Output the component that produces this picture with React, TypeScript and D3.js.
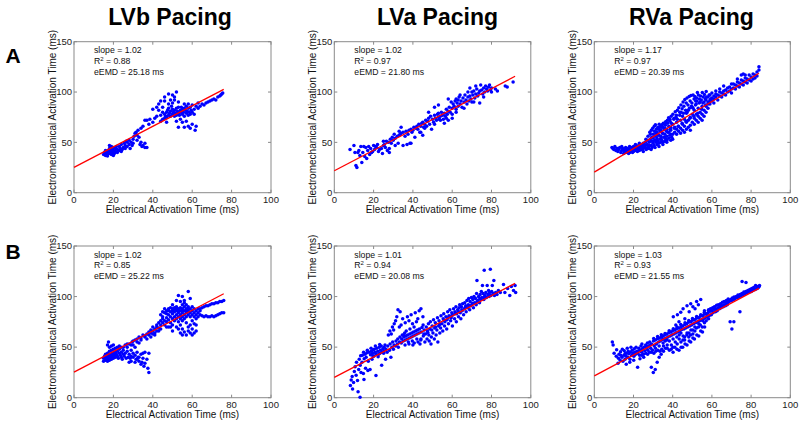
import React from "react";
import * as d3 from "d3";

type P = [number, number];

const columnTitles = ["LVb Pacing", "LVa Pacing", "RVa Pacing"];
const rowLabels = ["A", "B"];
const xTicks = [0, 20, 40, 60, 80, 100];
const yTicks = [0, 50, 100, 150];
const slopes = [1.02, 1.02, 1.17, 1.02, 1.01, 1.03];
const r2s = [0.88, 0.97, 0.97, 0.85, 0.94, 0.93];
const eemds = [25.18, 21.8, 20.39, 25.22, 20.08, 21.55];
const fitEnds = [76, 92, 84, 76, 92, 84];

const lvbA: P[] = [
  [15,38],[15.5,40],[16,37],[16,39],[16.5,41],[17,38],[17,40],[17.5,42],[18,39],[18,44],[18.5,41],[19,38],[19,43],[19.5,40],[20,42],[20,45],[20.5,39],[21,41],[21,44],[21.5,46],[22,40],[22,43],[18,47],[16,42],[17,36.5],[20,37],[19,46],
  [23,42],[23,46],[23.5,44],[24,48],[24.5,43],[25,45],[25.5,49],[26,47],[26.5,51],[27,50],[27,46],[28,52],[28,48],[28.5,44],[29,50],[29.5,47],[30,49],[30,53],[24,41],[26,44],
  [30.5,56],[31,59],[31.5,60],[32,57],[32,52],[33,55],[33.5,48],[34,50],[34.5,46],[35,47],[36,45],[36,49],[37,45],[32.5,62],[34,64],
  [35,66],[36,72],[37,72],[38,68],[38.5,73],[40,70],[40,83],[41,74],[42,76],[42,85],[43,82],[43,88],[44,77],[44,91],[45,73],[45,80],[45,85],[46,74],[46,91],[44,71],
  [46,78],[46.5,76],[47,80],[47,75],[47.5,82],[48,77],[48,84],[48.5,79],[49,81],[49,76],[49.5,86],[50,78],[50,83],[50,97],[50.5,80],[51,76],[51,82],[51,92],[51.5,79],[52,84],[52,77],[52,100],[52.5,81],[53,79],[53,85],[53,90],[53.5,77],[54,82],[54,80],[54.5,85],[55,78],[55,83],[55,70],[55.5,80],[56,84],[56,76],[56,65],[56.5,82],[57,79],[57,86],[57.5,81],[58,77],[58,84],[58.5,80],[59,85],[59,78],[59.5,82],[60,80],[60,87],[60,68],[61,83],[61,78],[61.5,62],[62,86],[62,66],[63,84],[52,71],[53,65],[54,73],[57,71],[58,66],[59,64],[48,88],[49,92],[47,70],[46,95],[48,98],[50,89],[51,95],[56,88],[58,88],
  [64,86],[65,88],[66,87],[68,90],[69,91],[70,92],[71,93],[72,92],[73,95],[74,96],[74.5,97],[75,98],[75.5,99],[67,89],[63,89]
];

const lvaA: P[] = [
  [8,43],[10,47],[10.5,40],[11,27],[11.5,25],[12,40],[12.5,42],[13,37],[13.5,46],[14,30],[14.5,40],[15,46],[15.5,36],[16,45],[16.5,34],[17,42],[17.5,46],[18,38],[18.5,44],[19,40],[19.5,41],[20,47],[20.5,43],[21,46],[21.5,45],[22,48],[22.5,41],[23,43],[24,44],[24.5,39],[25,47],[25.5,48],[26,45],[26.5,51],[27,42],[27.5,50],[28,44],[28.5,53],[29,49],[29.5,55],[30,52],[30.5,58],[31,47],[31,54],[32,56],[32.5,49],[33,57],[33.5,58],[34,59],[34,65],[35,60],[35,47],[36,56],[36.5,61],[37,48],[37.5,58],[38,62],[38.5,49],[39,63],[39.5,60],[40,62],[40.5,65],[41,55],[41.5,64],[42,66],[42.5,63],[43,68],[43.5,60],[44,66],[44.5,69],[45,57],[45,70],[45.5,65],[46,68],[46.5,72],[47,66],[47.5,71],[48,74],[48,80],[48.5,68],[49,76],[49.5,63],[50,73],[50.5,70],[51,77],[51,85],[51.5,74],[52,72],[52.5,78],[53,75],[53,87],[53.5,73],[54,76],[54.5,80],[55,77],[55.5,73],[56,79],[56.5,76],[57,83],[57.5,78],[58,81],[58,93],[58.5,85],[59,80],[59.5,90],[60,84],[60,78],[60.5,88],[61,86],[61.5,91],[62,83],[62.5,89],[63,92],[63,86],[63.5,95],[64,88],[64.5,91],[65,85],[65.5,94],[66,90],[66.5,97],[67,92],[67.5,88],[68,95],[68,100],[68.5,91],[69,96],[69.5,93],[70,100],[70,90],[70.5,97],[71,101],[71.5,94],[72,98],[72,106],[72.5,103],[73,96],[73.5,99],[74,101],[74,89],[74.5,107],[75,102],[75.5,98],[76,104],[76,95],[76.5,100],[77,106],[77.5,103],[78,101],[78.5,105],[79,107],[79.5,102],[80,104],[80,100],[82,103],[83,101],[87,106],[88,105],[91,110],[60,74],[58,72],[56,69],[54,72],[62,80],[66,84],[39,49],[33,61],[28,40],[25,51],[44,60],[46,64],[51,68],[53,79],[57,74],[62,93],[64,97],[69,104],[71,90]
];

const rvaA: P[] = [
  [9,45],[9.5,44],[10,43],[10.5,46],[11,42],[11.5,44],[12,41],[12.5,43],[13,45],[13.5,40],[14,42],[14.5,44],[15,39],[15,43],[15.5,41],[16,40],[16,45],[16.5,42],[17,41],[17,44],[17.5,39],[18,43],[18,46],[18.5,41],[19,42],[19,45],[19.5,40],[20,43],[20,46],[20.5,44],
  [21,42],[21,45],[21.5,47],[22,43],[22,46],[22.5,44],[23,42],[23,47],[23.5,45],[24,43],[24,48],[24.5,46],[25,44],[25,49],[25.5,47],[26,45],[26,50],[26.5,43],[27,48],[27,52],[27.5,46],[28,44],[28,50],[28.5,53],[29,47],[29,51],[29.5,45],[30,49],[30,54],[30,58],[30.5,47],[31,52],[31,56],[31.5,50],[32,48],[32,54],[32,60],[32.5,51],[33,57],[33,49],[33.5,53],[34,50],[34,56],[34,62],[34.5,52],[35,59],[35,48],[35.5,55],[36,51],[36,58],[36,64],[36.5,53],[37,56],[37,50],[37.5,60],[38,54],[38,66],[38.5,57],[39,52],[39,62],[39.5,55],[40,58],[40,68],[40,53],
  [28.3,60],[29.1,62],[29.8,64],[30.6,66],[31.2,67.5],[31.7,63],[32.4,65],[33.1,68],[33.8,66],[34.5,67.5],[35.2,69],[35.9,68],[36.4,70.5],[37.3,72],[37.9,74.5],[38.6,73],[39.2,76],[40.1,78],[40.7,74],[41.3,80.5],[41.9,77],[42.4,82],[43.1,84.5],[43.6,80],[44.2,87],[44.8,83.5],[45.3,90],[45.7,86],[46.2,92.5],[46.9,89],[47.3,94],[47.8,87],[48.4,95.5],[48.9,91],[49.3,96.5],[49.8,89],[50.4,97],[50.9,93],[51.3,95.5],[51.7,91],[52.2,94],[52.6,99.5],[53.1,97],[53.6,93],[54.2,96],[55.1,99.5],[55.6,95],[56.2,97.5],[57.1,100.5],
  [41,60],[41,65],[42,58],[42,63],[42,70],[43,61],[43,66],[44,59],[44,64],[44,72],[45,62],[45,68],[45,76],[46,60],[46,66],[46,73],[47,63],[47,70],[47,79],[48,65],[48,72],[48,82],[49,67],[49,75],[49,62],[50,70],[50,78],[50,85],[51,68],[51,74],[51,82],[52,72],[52,78],[52,88],[53,70],[53,76],[53,84],[54,74],[54,80],[54,90],[55,72],[55,78],[55,86],[56,76],[56,82],[56,90],[57,80],[57,86],[58,84],[58,90],
  [26.3,53],[27.4,56],[28.6,58],[29.3,55],[30.7,61],[31.4,59],[32.8,63],[33.6,61],[34.3,65],[35.7,63],[36.2,67],[37.4,69],[38.6,71],[39.3,69],[40.6,73],[41.7,75],[42.4,73],[43.6,77],[44.3,80],[45.5,79],[46.6,82],[47.3,80],[48.5,84],[49.6,86],[50.4,84],[51.6,87],[52.3,91],[53.5,89],[54.6,92],[55.4,89],[56.6,93],[57.3,95],[58.6,97],[59.4,93],[32.2,57],[34.8,59],[36.8,61],[38.8,63],[40.8,64],[42.8,66],[44.8,69],[46.8,71],[48.8,74],[50.8,76],[52.8,79],[54.8,83],[56.8,87],[58.8,90],
  [57,92],[58,95],[59,88],[59,97],[60,91],[60,99],[61,93],[61,89],[62,95],[62,98],[63,92],[63,97],[64,96],[64,100],[65,95],[65,99],[66,98],[66,101],[67,97],[67,102],[68,100],[68,104],[69,101],[69,105],[70,103],[70,99],[71,104],[71,108],[72,103],[72,107],[73,106],[73,110],[74,105],[74,109],[75,108],[75,112],[76,107],[76,111],[77,110],[77,114],[78,109],[78,113],[79,112],[79,117],[80,111],[80,115],[81,113],[81,118],[82,114],[82,117],[83,116],[83,120],[84,122],[84,125],[75,117],[76,118],[77,117],[73,113],[70,108],[66,106],[64,103],[62,101],[61,96],[60,94],[59,92],[58,88],
  [12,44],[14,46],[16,43],[18,40],[20,41],[22,41],[24,45],[26,47],[28,47],[30,51],[32,52],[34,54],[36,55],[38,60],[21,48],[23,49],[25,41],[27,44],[29,43],[31,45],[33,46],[35,50],[37,52],[39,58],[33,64],[35,65],[37,63],[39,65]
];

const lvbB: P[] = [
  [15,36],[15,39],[15.5,41],[16,37],[16,40],[16,43],[16.5,38],[17,36],[17,41],[17,44],[17,52],[17.5,39],[17.5,55],[18,37],[18,42],[18,46],[18,50],[18.5,40],[19,38],[19,43],[19,47],[19.5,41],[20,39],[20,44],[20,48],[20.5,42],[21,40],[21,45],[21,49],[21.5,43],[22,41],[22,46],[22,50],[22.5,39],[23,44],[23,48],[23.5,42],[24,40],[24,45],[24,50],[24.5,38],[25,43],[25,47],[25.5,41],[26,44],[26,52],[26.5,39],[27,46],[27,50],[27.5,40],[28,43],[28,53],[28.5,39],[29,47],[29,41],[29.5,55],[30,44],[30,40],[30,56],[31,42],[31,57],[31.5,38],[32,45],[32,58],[32.5,40],[33,36],[33,60],[34,43],[34,59],[34.5,35],[35,62],[35,39],[35.5,31],[36,61],[36,34],[37,63],[37,38],[37.5,29],[38,25],[38,65],[38,44],[39,64],[39,67],[40,66],[40,70],[41,68],[41,64],[42,70],[42,72],[43,69],[43,74],[44,72],[44,76],[45,74],[45,78],[45,85],[46,76],[46,72],[46,84],[47,79],[47,75],[47,86],[48,77],[48,82],[48,70],[48,86],[49,80],[49,74],[49,85],[50,78],[50,83],[50,72],[50,88],[51,80],[51,85],[51,76],[51,87],[52,82],[52,78],[52,86],[52,90],[52,70],[53,84],[53,80],[53,88],[53,75],[54,82],[54,86],[54,78],[54,95],[54,72],[55,84],[55,88],[55,80],[55,100],[55,68],[55,76],[56,86],[56,82],[56,90],[56,78],[56,65],[56,96],[57,84],[57,88],[57,80],[57,62],[57,92],[57,74],[58,86],[58,82],[58,105],[58,90],[58,70],[58,66],[59,84],[59,88],[59,80],[59,98],[59,72],[59,64],[60,86],[60,82],[60,76],[60,90],[60,68],[61,84],[61,80],[61,64],[61,88],[62,86],[62,82],[62,78],[62,66],[63,84],[63,80],[63,88],[64,82],[64,86],[64,88],[65,81],[65,89],[66,80],[66,90],[67,81],[67,91],[68,80],[68,91],[69,80],[69,92],[70,81],[70,93],[71,80],[71,93],[72,81],[72,94],[73,82],[73,94],[74,83],[74,95],[75,84],[75,95],[76,84],[76,96],
  [46,88],[47,83],[48,88],[49,89],[50,86],[51,89],[52,88],[53,86],[54,89],[55,86],[57,86],[58,88],[45,80],[44,82],[47,70],[49,70],[50,66],[53,68],[54,64],[55,62],[60,62],[61,73],[62,72],[50,92],[52,96],[53,101],[56,94],[55,92],
  [30,52],[32,55],[34,57],[36,60],[38,62],[40,63],[42,66],[44,68],[33,54],[37,58],[39,60],[41,62],[43,66],[27,53],[29,52],[31,50],[25,50],[23,51],[20,52],[19,51],[28,35],[29,36],[31,35],[33,40],[35,44],[36,45],[32,38],[34,33]
];

const lvaB: P[] = [
  [8.2,12],[8.6,17.5],[9.1,21],[9.3,8.5],[9.8,15],[10.2,26],[10.6,30.5],[11.1,22.3],[11.3,35],[11.8,17],[12.1,6],[12.4,28],[12.7,38],[13.1,0.5],[13.2,32],[13.4,41.5],[13.6,25],[14.1,35],[14.3,42],[14.8,24],[15.1,18],[15.2,38.5],[15.6,43],[15.9,29],[16.2,40],[16.6,44.5],[17.1,27],[17.3,36],[17.7,45],[18.2,28],[18.4,42.5],[18.9,46],[19.2,38],[19.4,44],[19.8,47.5],[20.1,41],[20.3,48],[20.7,45],[21.2,22],[21.1,43.5],[21.6,49],[22.1,46],[22.3,40.5],[22.8,50],[23.2,44],[23.5,47],[23.9,51],[24.1,32],[24.4,45],[24.7,48.5],[25.2,46],[25.4,50],[25.8,52],[26.1,38],[26.3,48],[26.9,45],[27.2,51],[16.8,47],[18.7,49],[20.9,51],[23.1,52.5],[25.1,44],[19.6,41.5],[14.9,45],[22.6,43],
  [27.5,62],[28.3,66],[29,63],[29.6,70],[30.2,67],[30.5,73],[31.2,76],[31.8,80],[32.4,87],[33.1,70],[33.5,85],[34,72],[34.8,78],[35.3,62],[36.1,74],[36.6,66],[37.2,80],[38,76],[38.5,68],[39.1,82],[39.8,73],[40.6,70],[41.2,84],[41.8,75],[42.5,78],[43.2,86],[44.1,88],[45.1,80],
  [28.1,47],[28.4,53],[28.8,40],[29.3,50],[29.7,55],[30.1,48],[30.4,52],[31.1,51],[31.4,56],[32.1,53],[32.3,58],[32.6,50],[33.2,55],[33.4,60],[34.1,54],[34.3,58],[34.6,62],[35.1,56],[35.4,60],[35.8,64],[36.2,57],[36.4,61],[37.1,58],[37.3,62],[37.7,55],[38.2,59],[38.4,63],[39.2,60],[39.4,64],[39.7,56],[40.1,61],[40.3,65],[40.7,54],[41.1,62],[41.4,66],[42.1,63],[42.3,67],[42.6,55],[43.1,64],[43.3,68],[43.6,53],[44,57],[40,52],[42,58],[38,53],[36,52],
  [44.2,65],[44.6,69.5],[44.1,58],[45.3,61],[45.7,67],[45.2,72],[46.1,55],[46.4,63],[46.8,70],[47.2,58],[47.4,66],[47.9,73],[48.3,56],[48.1,62],[48.6,68],[48.9,75],[49.2,53],[49.4,60],[49.8,71],[50.2,64],[50.5,77],[50.9,58],[51.1,69],[51.4,74],[51.8,62],[52.2,67],[52.5,79],[52.7,55],[53.1,71],[53.3,76],[53.7,64],[54.1,69],[54.3,81],[54.8,73],[55.2,66],[55.4,78],[55.7,83],[56.1,71],[56.3,75],[56.8,80],[57.2,68],[57.4,77],[57.7,85],[58.1,73],[58.4,81],[58.8,87],[59.2,76],[59.5,79],[59.8,84],[60.1,71],[60.4,82],[60.7,88],[61.2,78],[61.4,85],[61.9,90],[62.1,75],[62.3,83],[62.8,87],[63.2,80],[63.5,89],[63.8,92],[64.1,84],[64.4,78],[64.7,90],[65.1,86],[65.3,93],[65.8,82],[66.2,88],[66.4,94],[66.9,91],[67.1,85],[67.5,96],[67.8,89],[68.2,92],[68.4,98],[68.9,87],[69.1,95],[69.4,91],[69.8,99],[70.2,93],[70.5,97],[70.8,89],[71.1,100],[71.4,94],[71.9,98],[72.2,92],[72.4,103],[72.6,116],[73.1,96],[73.4,100],[73.9,94],[74.2,102],[74.5,97],[74.8,105],[75.1,99],[75.4,111],[75.7,103],[76.1,97],[76.3,126],[76.6,101],[77.1,104],[77.4,99],[77.8,111],[78.2,102],[78.5,106],[78.8,100],[79.1,104],[79.4,127],[79.7,101],[80.1,105],[80.4,111],[80.8,103],[81.2,116],[81.5,101],[82.1,104],[82.8,102],[83.5,106],[84.5,104],[86.1,112],[86.8,104],[88.2,108],[89.3,101],[90.1,110],[91.2,106],[92,111],[92.3,104],
  [55.9,76.5],[57.9,79],[59.9,81.5],[61.6,83],[63.1,85.5],[64.9,87],[66.7,89.5],[68.6,91],[70.4,93.5],[72.7,95],[74.1,98],[76.4,99.5],[78.4,101.5],[53.6,72.5],[51.6,70],[49.6,67],[47.6,64.5],[45.6,63]
];

const rvaB: P[] = [
  [9.2,55],[9.6,52],[10.1,44],[11.2,41],[11.4,47.5],[12.1,34],[12.3,39],[12.6,43],[13.2,37],[13.4,45.5],[14.1,40],[14.3,48],[14.6,36],[15.1,42],[15.3,46.5],[15.7,38],[16.2,41],[16.4,44],[16.8,49],[17.1,40],[17.3,46],[17.6,43.5],[18.2,38],[18.4,45],[18.7,50],[19.1,42],[19.3,47],[19.8,44],[20.2,41],[20.4,48.5],[20.6,45],[21.1,43],[21.3,50],[21.7,46],[22.1,30],[22.2,44],[22.7,49],[23.1,42],[23.3,47],[23.8,51],[24.2,45],[24.3,53],[24.6,48],[25.1,43],[25.3,50],[25.7,46.5],[26.2,52],[26.3,44],[26.8,49],[27.1,54],[27.3,47],[27.7,51],[28.2,45],[28.3,55],[28.8,49],[29.1,30],[29.2,53],[29.7,47],[30.1,25],[30.2,56],[30.4,44],[30.6,51],[16.3,33],[18.1,35],[20.1,37],[23.3,38.5],[25.2,40],[27.2,43],[29.1,45],[24.2,42],[20.3,43],[22.4,46],[24.5,48.5],[26.6,50.5],[28.5,52],[13.5,42],[15.8,44],
  [31.1,28],[31.2,57],[31.4,46],[31.7,53],[32.1,35],[32.3,58.5],[32.4,47],[32.8,55],[33.1,40],[33.2,59],[33.5,46],[33.7,56],[34.1,43],[34.3,60],[34.4,48],[34.8,57.5],[35.2,61],[35.3,46],[35.7,58],[36.2,62.5],[36.3,49],[36.6,59],[37.1,63],[37.2,52],[37.6,60],[38.1,64.5],[38.3,47],[38.7,61],[39.2,65],[39.3,52],[39.6,62],[40.1,66.5],[40.2,45],[40.6,63],[41.2,67],[41.3,55],[41.6,64],[42.1,68.5],[42.2,48],[42.7,65],[43.1,69],[43.3,58],[43.6,66],[44.2,70],[44.3,50],[44.6,67.5],[45.1,71],[45.3,61],[45.7,68],[46.2,72.5],[46.3,53],[46.6,69],[47.1,73],[47.3,64],[47.6,70],[48.1,74.5],[48.4,56],[48.7,71],[49.2,75],[49.3,67],[49.6,72],[50.1,76.5],[50.3,59],[50.6,73],[51.1,77],[51.3,70],[51.7,74],[52.1,78.5],[52.3,62],[52.6,75],[53.2,79],[53.3,73],[53.7,76],[54.1,80.5],[54.3,66],[54.6,77],[55.2,81],[55.3,76],[55.7,78],[56.1,82.5],[56.3,70],[56.6,79],[57.2,83],[57.3,80],[57.6,80.5],
  [30.3,58.6],[32.3,60.4],[34.2,62.3],[36.1,63.6],[38.2,66.2],[40.3,68.1],[42.2,69.8],[44.1,72.3],[46.3,74.1],[48.2,76.4],[50.1,78.2],[52.2,80.3],[54.3,82.1],[56.1,84.3],[58.2,86.1],
  [40.3,80],[41.6,72],[42.4,82],[43.2,75],[44.1,84.5],[45.3,88],[46.2,78],[47.3,91],[48.4,85],[49.2,93],[50.3,90],[51.4,88],[52.2,95],[53.1,92],[54.3,97],[56.2,86],
  [35.1,54],[36.2,56],[37.1,57],[38.3,56],[40.2,58],[42.1,60],[43.3,62],[44.2,64],[45.2,57],[46.1,60],[47.2,62],[48.3,64],[49.1,62],[50.2,67],[51.3,66],[52.1,69],[53.2,70],[54.1,72],[55.1,70],[56.2,74],[57.1,76],[58.3,78],[40.1,50],[42.3,53],[44.2,55],[46.1,57],[48.2,60],[50.3,63],[39.2,48],[41.1,50],[43.2,47],[45.1,50],[47.3,52],[49.2,55],[51.1,58],[53.3,61],[55.2,65],[31.2,49],[33.1,51],[35.3,51],[37.2,49],
  [58.1,84],[58.3,87],[58.6,81],[59.1,85.5],[59.3,88],[59.7,82],[60.1,86],[60.4,89],[60.6,84],[61.1,87.5],[61.3,90],[61.8,85],[62.1,88],[62.4,91.5],[62.7,86],[63.2,89],[63.3,92],[63.8,88],[64.1,90.5],[64.4,93],[64.7,89],[65.2,91],[65.4,94.5],[65.8,90],[66.1,92],[66.3,95],[66.9,91],[67.2,93.5],[67.4,96],[67.8,92],[68.1,94],[68.3,97.5],[68.7,95],[69.2,95.5],[69.3,75],[69.6,97],[70.1,96],[70.4,98.5],[70.2,68],[71.1,97],[71.3,99.5],[71.2,75],[71.7,98],[72.1,98.5],[72.4,100],[72.8,99],[73.1,99],[73.3,101.5],[73.7,100],[74.1,100],[74.3,85],[74.4,102],[75.1,101],[75.3,103],[75.4,115],[75.8,102],[76.1,102],[76.3,104.5],[76.7,103],[77.1,103],[77.3,105],[77.4,114],[77.8,104],[78.1,104],[78.3,106],[78.7,105],[79.1,104.5],[79.3,107],[79.8,106],[80.1,105],[80.3,108],[80.6,106],[81.1,106.5],[81.3,109],[81.7,107],[82.1,107],[82.3,111],[82.7,108],[83.1,108],[83.3,110],[83.7,109],[84.1,110],[84.3,111]
];

const panelData: P[][] = [lvbA, lvaA, rvaA, lvbB, lvaB, rvaB];

const colX = [74, 334.3, 594.3];
const colW = [197, 196.5, 196];
const rowY = [41.7, 246];
const rowH = [151, 151.7];

const FONT = "'Liberation Sans', Arial, Helvetica, sans-serif";
const AXIS = "#8a8a8a";

function Panel({ idx }: { idx: number }) {
  const col = idx % 3;
  const row = Math.floor(idx / 3);
  const x0 = colX[col];
  const w = colW[col];
  const y0 = rowY[row];
  const h = rowH[row];
  const x = d3.scaleLinear().domain([0, 100]).range([x0, x0 + w]);
  const y = d3.scaleLinear().domain([0, 150]).range([y0 + h, y0]);
  const slope = slopes[idx];
  const icpt = eemds[idx];
  const fitLine = d3
    .line<number>()
    .x((d) => x(d))
    .y((d) => y(slope * d + icpt));
  const pts = panelData[idx];
  const tl = 3;
  return (
    <g>
      <rect x={x0} y={y0} width={w} height={h} fill="#fff" stroke={AXIS} strokeWidth={1} />
      {xTicks.map((t) => (
        <g key={"xt" + t}>
          <line x1={x(t)} x2={x(t)} y1={y0 + h} y2={y0 + h - tl} stroke={AXIS} />
          <line x1={x(t)} x2={x(t)} y1={y0} y2={y0 + tl} stroke={AXIS} />
          <text x={x(t)} y={y0 + h + 10} fontSize={9.5} textAnchor="middle" fill="#222" fontFamily={FONT}>
            {t}
          </text>
        </g>
      ))}
      {yTicks.map((t) => (
        <g key={"yt" + t}>
          <line x1={x0} x2={x0 + tl} y1={y(t)} y2={y(t)} stroke={AXIS} />
          <line x1={x0 + w} x2={x0 + w - tl} y1={y(t)} y2={y(t)} stroke={AXIS} />
          <text x={x0 - 2} y={y(t) + 3.3} fontSize={9.5} textAnchor="end" fill="#222" fontFamily={FONT}>
            {t}
          </text>
        </g>
      ))}
      {pts.map((p, i) => (
        <circle key={i} cx={x(p[0])} cy={y(p[1])} r={1.75} fill="#0000ff" />
      ))}
      <path d={fitLine([0, fitEnds[idx]]) || ""} stroke="#ff0000" strokeWidth={1.3} fill="none" />
      <g fontFamily={FONT} fontSize={8.7} fill="#111">
        <text x={x0 + 20} y={y0 + 11.5}>slope = {slope.toFixed(2)}</text>
        <text x={x0 + 20} y={y0 + 22.3}>
          R<tspan dy={-3.5} fontSize={6}>2</tspan>
          <tspan dy={3.5}> = {r2s[idx].toFixed(2)}</tspan>
        </text>
        <text x={x0 + 20} y={y0 + 33}>eEMD = {eemds[idx].toFixed(2)} ms</text>
      </g>
      <text
        x={x0 + w / 2}
        y={y0 + h + 20.3}
        fontSize={10}
        textAnchor="middle"
        fill="#111"
        fontFamily={FONT}
      >
        Electrical Activation Time (ms)
      </text>
      <text
        transform={`translate(${x0 - 18.3},${y0 + h / 2}) rotate(-90)`}
        fontSize={10}
        textAnchor="middle"
        fill="#111"
        fontFamily={FONT}
      >
        Electromechanical Activation Time (ms)
      </text>
    </g>
  );
}

export default function App() {
  const titleX = [170, 437.5, 691.5];
  return (
    <svg
      width={800}
      height={423}
      style={{ position: "absolute", left: 0, top: 0, background: "#fff" }}
    >
      <rect width={800} height={423} fill="#fff" />
      {columnTitles.map((t, i) => (
        <text
          key={t}
          x={titleX[i]}
          y={25}
          fontSize={23}
          fontWeight="bold"
          textAnchor="middle"
          fontFamily={FONT}
          fill="#000"
        >
          {t}
        </text>
      ))}
      {rowLabels.map((t, i) => (
        <text
          key={t}
          x={13}
          y={i === 0 ? 63.3 : 259.3}
          fontSize={21}
          fontWeight="bold"
          textAnchor="middle"
          fontFamily={FONT}
          fill="#000"
        >
          {t}
        </text>
      ))}
      {[0, 1, 2, 3, 4, 5].map((i) => (
        <Panel key={i} idx={i} />
      ))}
    </svg>
  );
}
